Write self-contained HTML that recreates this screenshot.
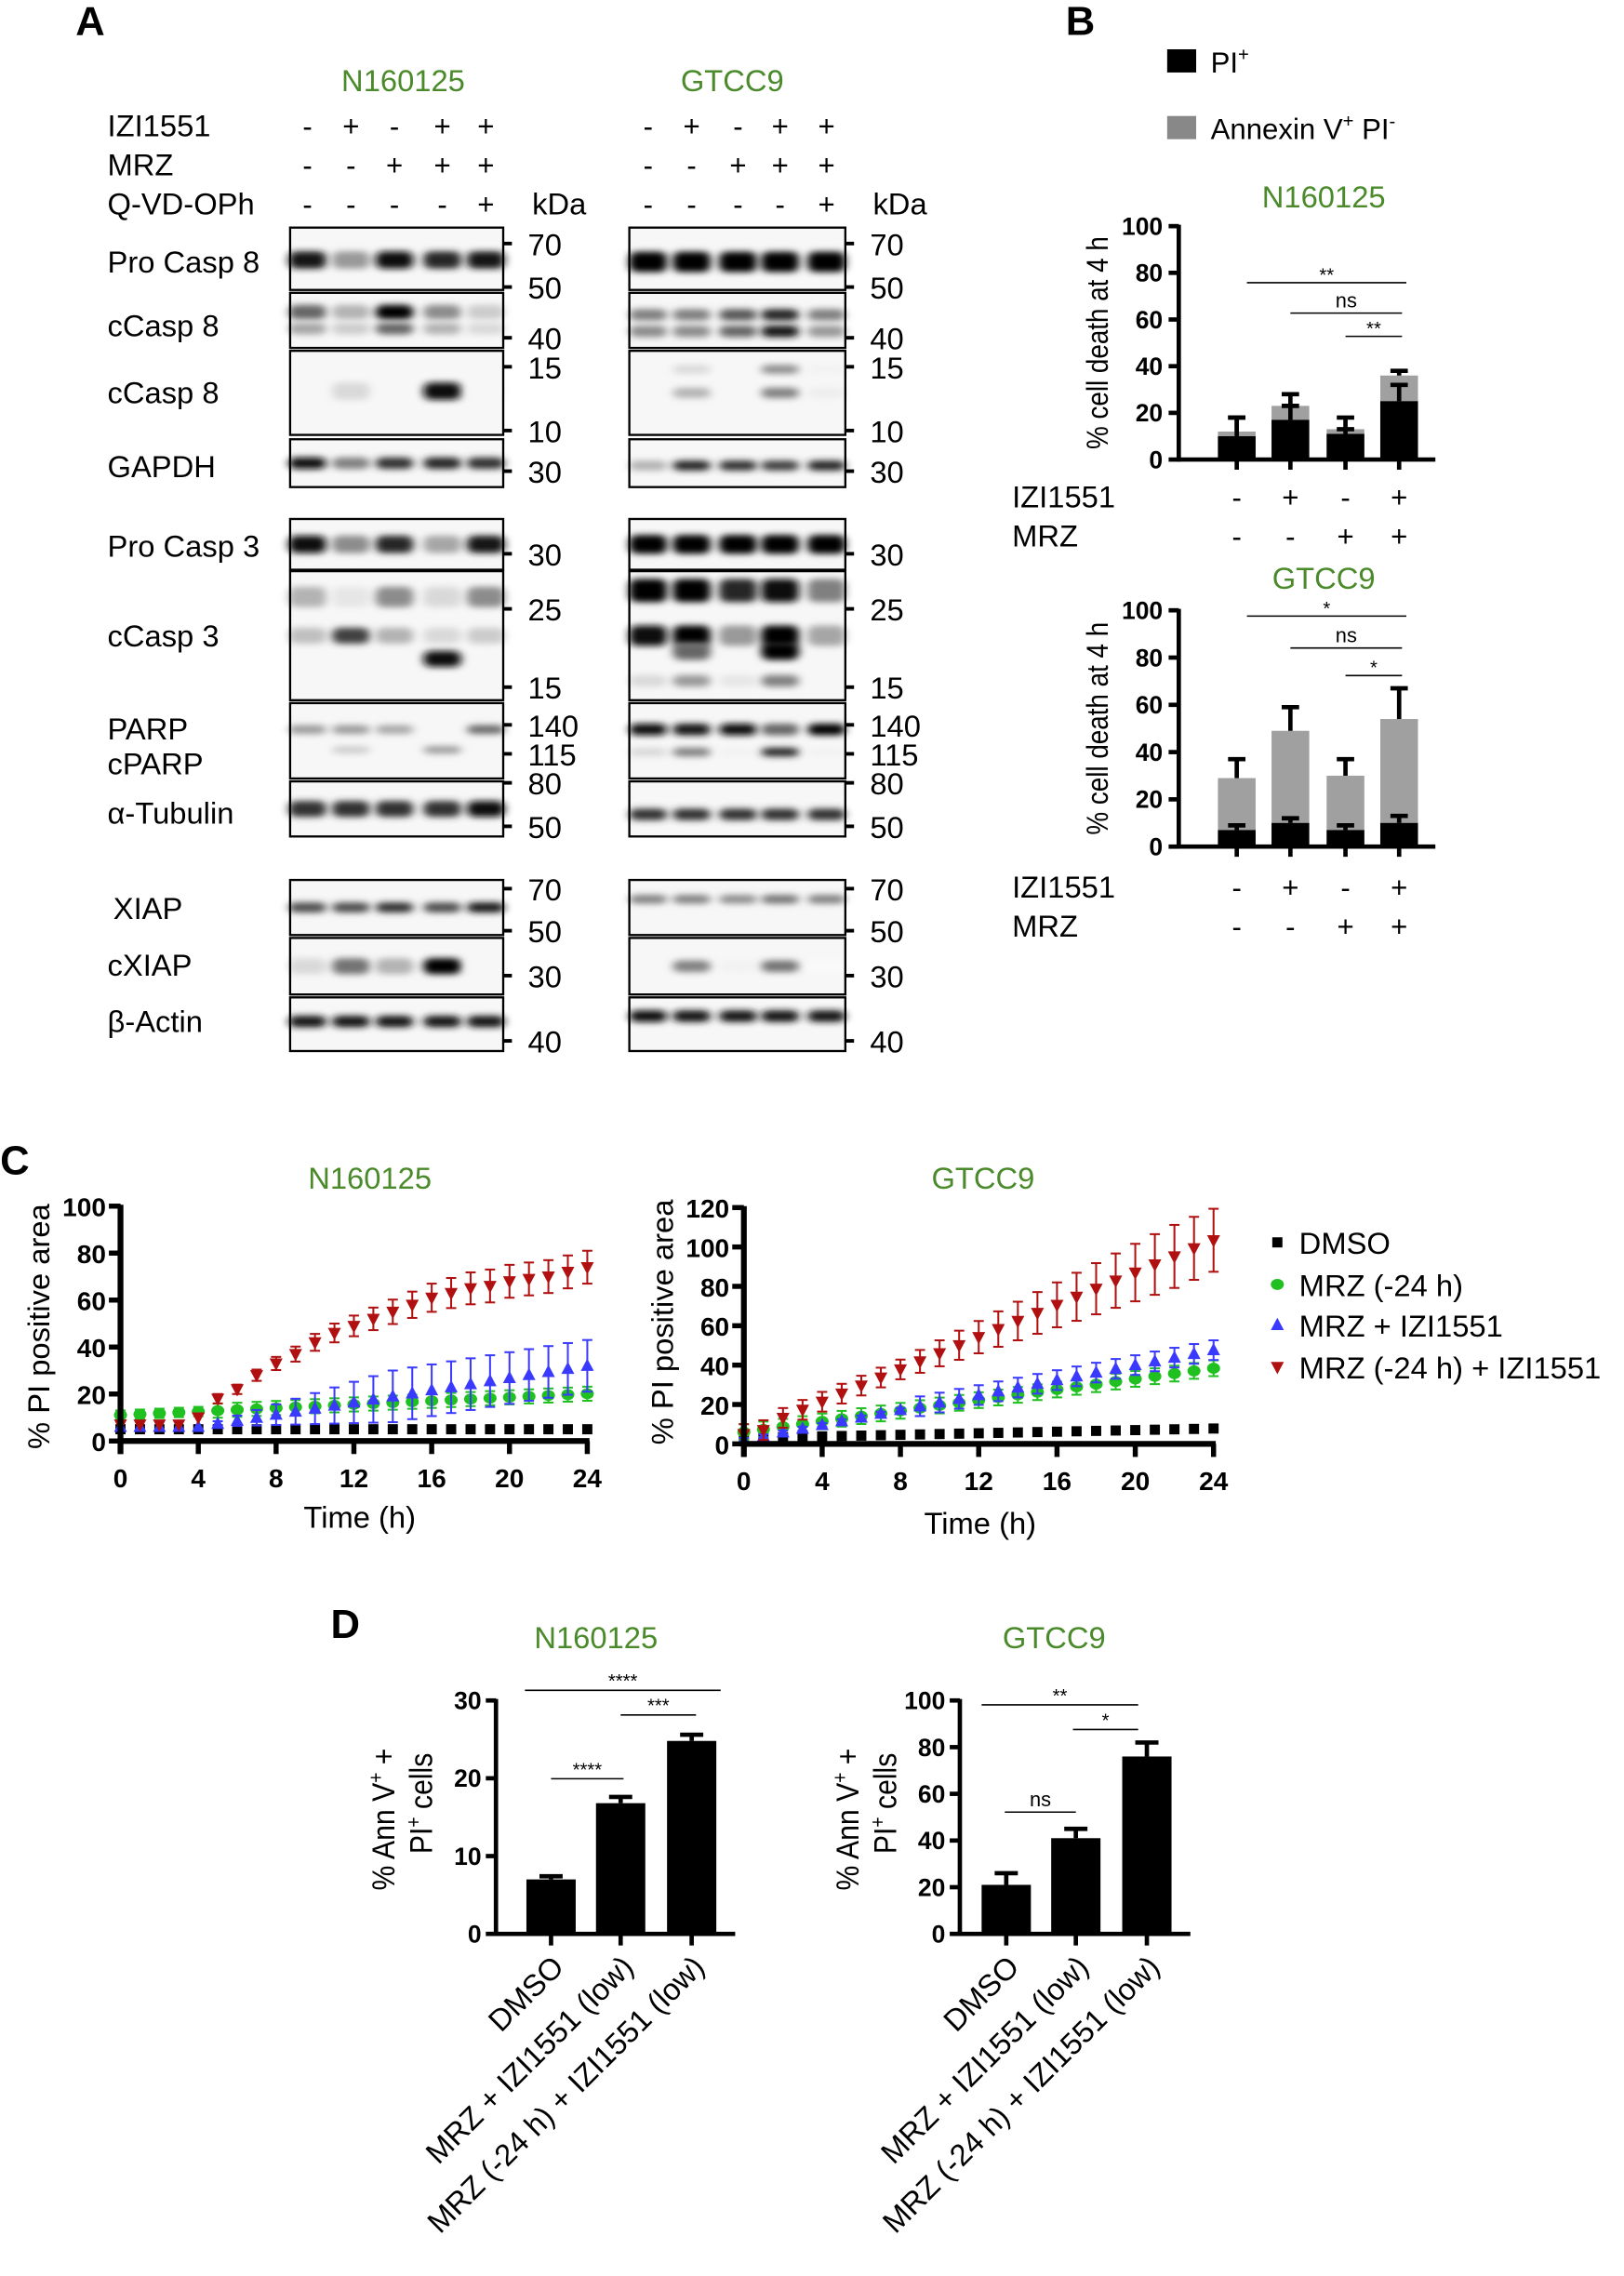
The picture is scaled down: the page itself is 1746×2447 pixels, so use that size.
<!DOCTYPE html>
<html><head><meta charset="utf-8">
<style>
html,body{margin:0;padding:0;background:#fff;}
svg{display:block;}
text{font-family:"Liberation Sans",Arial,sans-serif;fill:#000;}
.g{fill:#4a8a2a;}
.b{font-weight:bold;}
</style></head>
<body>
<svg id="s" width="1746" height="2447" viewBox="0 0 1120 1570" xmlns="http://www.w3.org/2000/svg">
<defs>
<filter id="bl" x="-40%" y="-150%" width="180%" height="400%"><feGaussianBlur stdDeviation="3 2.2"/></filter>
</defs>
<g id="root"></g>
</svg>
<script>
const R=document.getElementById('root');let h='';
function T(x,y,s,t,o){o=o||{};h+=`<text x="${x}" y="${y}" font-size="${s}" ${o.a?`text-anchor="${o.a}"`:''} ${o.c?`class="${o.c}"`:''} ${o.tr?`transform="${o.tr}"`:''} ${o.f?`fill="${o.f}"`:''} ${o.w?`font-weight="${o.w}"`:''}>${t}</text>`;}
function L(x1,y1,x2,y2,w,c){h+=`<line x1="${x1}" y1="${y1}" x2="${x2}" y2="${y2}" stroke="${c||'#000'}" stroke-width="${w||1}"/>`;}
function Rc(x,y,w,hh,f,extra){h+=`<rect x="${x}" y="${y}" width="${w}" height="${hh}" fill="${f}" ${extra||''}/>`;}
// Panel A
T(52,24,28,'A',{c:'b'});T(735,24,28,'B',{c:'b'});
T(278,63,21,'N160125',{a:'middle',c:'g'});T(505,63,21,'GTCC9',{a:'middle',c:'g'});
const rows=[['IZI1551',94,['-','+','-','+','+'],['-','+','-','+','+']],['MRZ',121,['-','-','+','+','+'],['-','-','+','+','+']],['Q-VD-OPh',148,['-','-','-','-','+'],['-','-','-','-','+']]];
const LX1=[212,242,272,305,335],LX2=[447,477,509,538,570];
rows.forEach(r=>{T(74,r[1],21,r[0]);r[2].forEach((s,i)=>T(LX1[i],r[1],20,s,{a:'middle'}));r[3].forEach((s,i)=>T(LX2[i],r[1],20,s,{a:'middle'}));});
T(367,148,21,'kDa');T(602,148,21,'kDa');
const blots=[
['Pro Casp 8',188,157,200,[[70,168],[50,198]],[[0.52,[0.9,0.4,0.95,0.85,0.9],12]],[[0.55,[1,1,1,1,1],14]]],
['cCasp 8',232,202,240,[[40,233]],[[0.35,[0.6,0.3,1,0.45,0.2],10],[0.65,[0.35,0.2,0.6,0.3,0.15],8]],[[0.4,[0.5,0.5,0.65,0.85,0.5],8],[0.7,[0.45,0.45,0.6,0.9,0.4],8]]],
['cCasp 8',278,242,300,[[15,253],[10,297]],[[0.48,[0,0.15,0,0.95,0.03],12]],[[0.22,[0,0.15,0,0.45,0.05],6],[0.5,[0,0.3,0,0.5,0.07],7]]],
['GAPDH',329,303,336,[[30,325]],[[0.5,[0.95,0.5,0.8,0.85,0.8],8]],[[0.55,[0.3,0.85,0.8,0.75,0.85],7]]],
['Pro Casp 3',384,358,393,[[30,382]],[[0.5,[0.95,0.45,0.85,0.35,0.9],12]],[[0.5,[1,1,1,1,1],13]]],
['cCasp 3',446,394,483,[[0.2,[0.3,0.1,0.45,0.15,0.45],14]].length?0:0,[[25,420],[15,474]],[[0.2,[0.3,0.1,0.45,0.15,0.45],14],[0.5,[0.25,0.75,0.3,0.15,0.2],11],[0.68,[0,0,0,0.95,0],11]],[[0.15,[1,1,0.85,0.95,0.5],16],[0.5,[0.95,1,0.4,1,0.35],14],[0.62,[0,0.6,0,1,0],12],[0.85,[0.15,0.4,0.1,0.5,0],8]]],
['PARP',510,485,537,[[140,500],[115,520],[80,540]],[[0.35,[0.4,0.4,0.35,0,0.6],6],[0.62,[0,0.2,0,0.4,0],5]],[[0.35,[0.95,0.9,0.95,0.6,1],8],[0.65,[0.15,0.5,0.05,0.85,0.05],6]]],
['α-Tubulin',568,539,577,[[50,570]],[[0.5,[0.8,0.8,0.8,0.8,0.95],11]],[[0.6,[0.8,0.8,0.8,0.8,0.8],8]]],
['XIAP',634,607,645,[[70,613],[50,642]],[[0.5,[0.7,0.7,0.8,0.7,0.9],7]],[[0.35,[0.5,0.5,0.45,0.55,0.5],6]]],
['cXIAP',673,647,686,[[30,673]],[[0.5,[0.15,0.55,0.3,1,0.03],11]],[[0.5,[0.03,0.5,0.05,0.55,0.02],8]]],
['β-Actin',712,688,725,[[40,718]],[[0.45,[0.9,0.9,0.9,0.9,0.9],8]],[[0.35,[0.95,0.9,0.9,0.9,0.9],8]]]
];
blots[5]=['cCasp 3',446,394,483,[[25,420],[15,474]],[[0.2,[0.3,0.1,0.45,0.15,0.45],14],[0.5,[0.25,0.75,0.3,0.15,0.2],11],[0.68,[0,0,0,0.95,0],11]],[[0.15,[1,1,0.85,0.95,0.5],16],[0.5,[0.95,1,0.4,1,0.35],14],[0.62,[0,0.6,0,1,0],12],[0.85,[0.15,0.4,0.1,0.5,0],8]]];
blots.forEach(b=>{
 [[200,LX1,b[5],347],[434,LX2,b[6],583]].forEach(([x0,lx,bands,x1])=>{
  Rc(x0,b[2],x1-x0,b[3]-b[2],'#f7f7f7');
  bands.forEach(bd=>{bd[1].forEach((v,i)=>{if(v<=0)return;const g=Math.round(255*(1-v));const cy=b[2]+bd[0]*(b[3]-b[2]);h+=`<rect x="${lx[i]-13}" y="${cy-bd[2]/2}" width="26" height="${bd[2]}" rx="5" fill="rgb(${g},${g},${g})" filter="url(#bl)"/>`;});});
  Rc(x0,b[2],x1-x0,b[3]-b[2],'none','stroke="#000" stroke-width="1.5"');
  b[4].forEach(m=>{L(x1,m[1],x1+6,m[1],2.5);T(x1+17,m[1]+8,21,m[0]);});
 });
 if(b[0]==='PARP'){T(74,510,21,'PARP');T(74,534,21,'cPARP');}
 else T(b[0]==='XIAP'?78:74,b[1],21,b[0]);
});
// Panel B
Rc(805,34,20,16,'#000');T(835,50,20,'PI<tspan font-size="13" dy="-8">+</tspan>');
Rc(805,80,20,16,'#888');T(835,96,20,'Annexin V<tspan font-size="13" dy="-8">+</tspan><tspan dy="8"> PI</tspan><tspan font-size="13" dy="-8">-</tspan>');
function barB(top,bot,title,ty,data,sig,ly){
 T(913,ty,21,title,{a:'middle',c:'g'});
 const ax=813,sc=(bot-top)/100;
 const X=[853,890,928,965];
 data.forEach((d,i)=>{const x=X[i]-13;
  Rc(x,bot-d[1]*sc,26,d[1]*sc,'#a0a0a0');
  L(X[i],bot-d[1]*sc,X[i],bot-d[2]*sc,3);L(X[i]-6,bot-d[2]*sc,X[i]+6,bot-d[2]*sc,3);
  Rc(x,bot-d[0]*sc,26,d[0]*sc,'#000');
  L(X[i],bot-d[0]*sc,X[i],bot-d[3]*sc,3);L(X[i]-6,bot-d[3]*sc,X[i]+6,bot-d[3]*sc,3);
  L(X[i],bot,X[i],bot+7,3);
 });
 L(ax,top-1,ax,bot+1.5,3);L(ax,bot,990,bot,3);
 for(let v=0;v<=100;v+=20){const y=bot-v*sc;L(ax-7,y,ax,y,3);T(ax-11,y+6,17,v,{a:'end',c:'b'});}
 T(0,0,21,'% cell death at 4 h',{a:'middle',tr:`translate(764,${(top+bot)/2}) rotate(-90) scale(0.85,1)`});
 sig.forEach(s=>{L(s[0],s[2],s[1],s[2],1);T((s[0]+s[1])/2,s[2]-(s[3]=='ns'?4:1),s[3]=='ns'?14:13,s[3],{a:'middle'});});
 T(698,ly,21,'IZI1551');T(698,ly+27,21,'MRZ');
 ['-','+','-','+'].forEach((s,i)=>T(X[i],ly,20,s,{a:'middle'}));['-','-','+','+'].forEach((s,i)=>T(X[i],ly+27,20,s,{a:'middle'}));
}
barB(156,317,'N160125',143,[[10,12,18,18],[17,23,28,23],[11,13,18,13],[25,36,38,32]],[[860,970,195,'**'],[890,967,216,'ns'],[928,967,232,'**']],350);
barB(421,584,'GTCC9',406,[[7,29,37,9],[10,49,59,12],[7,30,37,9],[10,54,67,13]],[[860,970,425,'*'],[890,967,447,'ns'],[928,967,466,'*']],619);
// Panel C
T(0,810,28,'C',{c:'b'});
const cols={k:'#000',g:'#1fc01f',b:'#3a3aff',r:'#b01010'};
function mk(t,x,y){if(t=='k')return `<rect x="${x-3.5}" y="${y-3.5}" width="7" height="7" fill="#000"/>`;
 if(t=='g')return `<ellipse cx="${x}" cy="${y}" rx="4.5" ry="3.8" fill="${cols.g}"/>`;
 if(t=='b')return `<polygon points="${x},${y-5} ${x-4.5},${y+3.5} ${x+4.5},${y+3.5}" fill="${cols.b}"/>`;
 return `<polygon points="${x},${y+5} ${x-4.5},${y-3.5} ${x+4.5},${y-3.5}" fill="${cols.r}"/>`;}
function lineC(ax,x24,top,bot,ymax,step,title,tx,series){
 const sx=(x24-ax)/24,sy=(bot-top)/ymax;
 T(tx,820,21,title,{a:'middle',c:'g'});
 series.forEach(([t,f,ef])=>{for(let i=0;i<=24;i++){const v=f(i),e=ef(i);const x=ax+i*sx;
  if(e>0){const c=cols[t];L(x,bot-(v-e)*sy,x,bot-(v+e)*sy,1.3,c);L(x-3.5,bot-(v+e)*sy,x+3.5,bot-(v+e)*sy,1.3,c);L(x-3.5,bot-(v-e)*sy,x+3.5,bot-(v-e)*sy,1.3,c);}
  h+=mk(t,x,bot-v*sy);}});
 L(ax,top-1,ax,bot+9,4);L(ax,bot,x24+1.5,bot,4);
 for(let v=0;v<=ymax;v+=step){const y=bot-v*sy;L(ax-8,y,ax,y,3.5);T(ax-10,y+7,18,v,{a:'end',c:'b'});}
 for(let i=0;i<=24;i+=4){const x=ax+i*sx;L(x,bot,x,bot+9,3.5);T(x,bot+32,18,i,{a:'middle',c:'b'});}
}
const redL=[7,7,7,7,10,18,22,28,33,37,42,46,49,52,55,58,61,63,65,66,68,69,70,72,74];
lineC(83,405,832,994,100,20,'N160125',255,[
 ['k',i=>5,i=>0],
 ['g',i=>11+i*0.38,i=>i>4?3:2],
 ['b',i=>i<4?6:6+(i-4)*1.3,i=>i<5?0:Math.min(11,(i-4)*1.1)],
 ['r',i=>redL[i],i=>i<6?(i==5?2:0):Math.min(7,2+(i-6)*0.4)]
]);
T(248,1054,21,'Time (h)',{a:'middle'});
T(0,0,21,'% PI positive area',{a:'middle',tr:'translate(34,915) rotate(-90)'});
lineC(513,837,833,996,120,20,'GTCC9',678,[
 ['k',i=>3+i*0.2,i=>0],
 ['g',i=>6+i*1.35,i=>4],
 ['b',i=>2+i*1.9,i=>i>8?5:1],
 ['r',i=>i<2?5+i*2:5+i*4.1,i=>i<8?5:Math.min(16,5+(i-8)*0.8)]
]);
T(676,1058,21,'Time (h)',{a:'middle'});
T(0,0,21,'% PI positive area',{a:'middle',tr:'translate(464,912) rotate(-90)'});
[['k','DMSO',857],['g','MRZ (-24 h)',886],['b','MRZ + IZI1551',914],['r','MRZ (-24 h) + IZI1551',943]].forEach(l=>{h+=mk(l[0],881,l[2]);T(896,l[2]+8,21,l[1]);});
// Panel D
T(228,1130,28,'D',{c:'b'});
function barD(ax,top,bot,ymax,step,title,tx,X,vals,errs,sigs,ylx){
 const sy=(bot-top)/ymax;T(tx,1137,21,title,{a:'middle',c:'g'});
 vals.forEach((v,i)=>{Rc(X[i]-17,bot-v*sy,34,v*sy,'#000');L(X[i],bot-v*sy,X[i],bot-(v+errs[i])*sy,3);L(X[i]-8,bot-(v+errs[i])*sy,X[i]+8,bot-(v+errs[i])*sy,3);L(X[i],bot,X[i],bot+8,3);});
 L(ax,top-1,ax,bot+1.5,3);L(ax,bot,X[2]+30,bot,3);
 for(let v=0;v<=ymax;v+=step){const y=bot-v*sy;L(ax-7,y,ax,y,3);T(ax-10,y+6,17,v,{a:'end',c:'b'});}
 sigs.forEach(s=>{L(s[0],s[2],s[1],s[2],1);T((s[0]+s[1])/2,s[2]-(s[3]=='ns'?4:2),s[3]=='ns'?14:13,s[3],{a:'middle'});});
 T(0,0,22,'% Ann V<tspan font-size="14" dy="-8">+</tspan><tspan dy="8"> +</tspan>',{a:'middle',tr:`translate(${ylx},1255) rotate(-90) scale(0.88,1)`});
 T(0,0,22,'PI<tspan font-size="14" dy="-8">+</tspan><tspan dy="8"> cells</tspan>',{a:'middle',tr:`translate(${ylx+26},1244) rotate(-90) scale(0.88,1)`});
 ['DMSO','MRZ + IZI1551 (low)','MRZ (-24 h) + IZI1551 (low)'].forEach((t,i)=>T(0,0,21,t,{a:'end',tr:`translate(${X[i]+10},1358) rotate(-45)`}));
}
barD(342,1173,1334,30,10,'N160125',411,[380,428,477],[7,16.8,24.8],[0.4,0.8,0.8],[[362,497,1166,'****'],[428,480,1183,'***'],[380,430,1227,'****']],272);
barD(662,1173,1334,100,20,'GTCC9',727,[694,742,791],[21,41,76],[5,4,6],[[677,785,1176,'**'],[740,785,1193,'*'],[693,742,1250,'ns']],592);
R.innerHTML=h;
</script>
</body></html>
